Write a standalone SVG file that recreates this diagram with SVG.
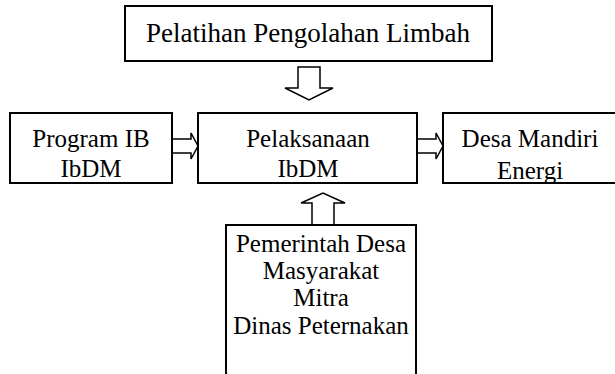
<svg xmlns="http://www.w3.org/2000/svg" width="615" height="374" viewBox="0 0 615 374">
<style>
.box{fill:#fff;stroke:#000;stroke-width:2}
.arr{fill:#fff;stroke:#000;stroke-width:1.5;stroke-linejoin:miter}
text{font-family:"Liberation Serif","Times New Roman",serif;font-size:25px;fill:#000;text-anchor:middle}
.big{font-size:27px}
</style>
<defs>
<clipPath id="cr"><rect x="443" y="113" width="172" height="69"/></clipPath>
</defs>
<rect width="615" height="374" fill="#fff"/>
<g id="connectors">
<path class="arr" d="M298,67 H320 V88 H333 L309,100 L285,88 H298 Z"/>
<path class="arr" d="M172,139 H191 V133 L198,146 L191,159 V153 H172"/>
<path class="arr" d="M417,139 H436 V133 L443,146 L436,159 V153 H417"/>
<path class="arr" d="M312,224 V203 H301 L323,193 L345,203 H334 V224"/>
</g>
<g id="pelatihan">
<rect class="box" x="125" y="6" width="367" height="55"/>
<text class="big" x="308" y="42">Pelatihan Pengolahan Limbah</text>
</g>
<g id="program">
<rect class="box" x="10" y="113" width="162" height="70"/>
<text x="91" y="147">Program IB</text>
<text x="91" y="177">IbDM</text>
</g>
<g id="pelaksanaan">
<rect class="box" x="198" y="113" width="219" height="70"/>
<text x="308" y="147">Pelaksanaan</text>
<text x="308" y="177">IbDM</text>
</g>
<g id="desa">
<rect class="box" x="443" y="113" width="175" height="70"/>
<g clip-path="url(#cr)">
<text x="530" y="147">Desa Mandiri</text>
<text x="530" y="179">Energi</text>
</g>
</g>
<g id="pemerintah">
<rect class="box" x="226" y="225" width="190" height="160"/>
<text x="321" y="252">Pemerintah Desa</text>
<text x="321" y="279">Masyarakat</text>
<text x="321" y="306">Mitra</text>
<text x="321" y="334">Dinas Peternakan</text>
</g>
</svg>
